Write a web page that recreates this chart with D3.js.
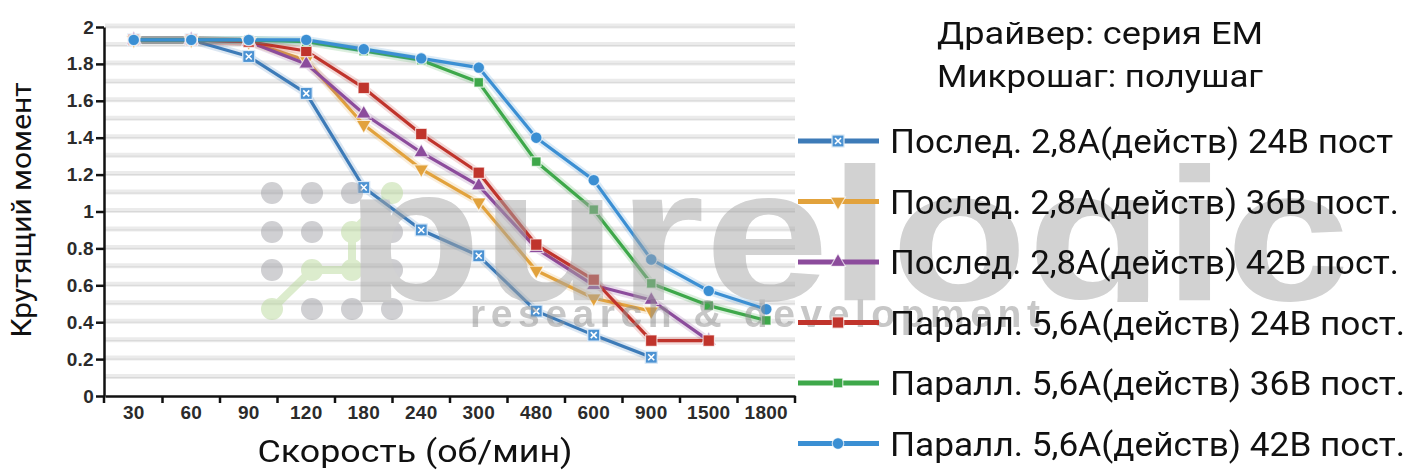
<!DOCTYPE html>
<html>
<head>
<meta charset="utf-8">
<script src="https://cdn.jsdelivr.net/npm/d3@7"></script>
<style>
  body { margin: 0; background: #fff; }
  svg { display: block; }
</style>
</head>
<body>
<div id="chart"></div>
<script>
// speed categories (rpm) and torque values
const speeds = ["30", "60", "90", "120", "180", "240", "300", "480", "600", "900", "1500", "1800"];
const torqueSer24 = [1.93, 1.93, 1.84, 1.64, 1.13, 0.90, 0.76, 0.46, 0.33, 0.21];
const torqueSer36 = [1.93, 1.93, 1.92, 1.82, 1.47, 1.23, 1.05, 0.68, 0.53, 0.46];
const torqueSer42 = [1.93, 1.93, 1.92, 1.80, 1.53, 1.32, 1.14, 0.80, 0.60, 0.52, 0.30];
const torquePar24 = [1.93, 1.93, 1.92, 1.87, 1.67, 1.42, 1.21, 0.82, 0.63, 0.30, 0.30];
const torquePar36 = [1.93, 1.93, 1.93, 1.92, 1.87, 1.82, 1.70, 1.27, 1.01, 0.61, 0.49, 0.41];
const torquePar42 = [1.93, 1.93, 1.93, 1.93, 1.88, 1.83, 1.78, 1.40, 1.17, 0.74, 0.57, 0.47];

const seriesNames = [
    "Послед. 2,8А(действ) 24В пост",
    "Послед. 2,8А(действ) 36В пост.",
    "Послед. 2,8А(действ) 42В пост.",
    "Паралл. 5,6А(действ) 24В пост.",
    "Паралл. 5,6А(действ) 36В пост.",
    "Паралл. 5,6А(действ) 42В пост."
];
const seriesColors = ["#3d7bb8", "#e2a23c", "#8c4c9c", "#c0342c", "#3ea84a", "#3b8fd3"];
const seriesMarkers = ["xsquare", "triangleDown", "triangle", "square", "smallSquare", "circle"];
const seriesValues = [torqueSer24, torqueSer36, torqueSer42, torquePar24, torquePar36, torquePar42];

const yTicks = [0, 0.2, 0.4, 0.6, 0.8, 1, 1.2, 1.4, 1.6, 1.8, 2];
const yTickLabels = ["0", "0.2", "0.4", "0.6", "0.8", "1", "1.2", "1.4", "1.6", "1.8", "2"];

const headerLines = ["Драйвер: серия EM", "Микрошаг: полушаг"];
const yTitle = "Крутящий момент";
const xTitle = "Скорость (об/мин)";

const width = 1410, height = 472;
const plot = { left: 105, right: 795, top: 15, bottom: 396 };
const bigFont = "Roboto, 'Open Sans', sans-serif";
const tickFont = "'Liberation Sans', Arial, sans-serif";

const svg = d3.select("#chart").append("svg")
    .attr("width", width)
    .attr("height", height);

const x = d3.scaleBand().domain(speeds).range([plot.left, plot.right]);
const y = d3.scaleLinear().domain([0, 2]).range([plot.bottom, 27]);
const cx = d => x(d) + x.bandwidth() / 2;

// striped background: a soft grey band every 0.1
const grid = svg.append("g");
const gridVals = d3.range(1, 21).map(i => i / 10);
grid.selectAll(".band").data(gridVals).join("line")
    .attr("x1", plot.left).attr("x2", plot.right)
    .attr("y1", d => y(d) - 1).attr("y2", d => y(d) - 1)
    .attr("stroke", "#ebebeb").attr("stroke-width", 5);
grid.selectAll(".thin").data(gridVals).join("line")
    .attr("x1", plot.left).attr("x2", plot.right)
    .attr("y1", d => y(d)).attr("y2", d => y(d))
    .attr("stroke", "#d8d8d8").attr("stroke-width", 1);

// axes
const yAxis = svg.append("g")
    .attr("transform", `translate(${plot.left - 1},0)`)
    .call(d3.axisLeft(y).tickValues(yTicks).tickFormat((d, i) => yTickLabels[i]).tickSize(8).tickSizeOuter(0).tickPadding(2));
const xAxis = svg.append("g")
    .attr("transform", `translate(0,${plot.bottom})`)
    .call(d3.axisBottom(x).tickSize(0).tickPadding(10));

[yAxis, xAxis].forEach(a => {
    a.attr("font-size", null).attr("font-family", null);
    a.select(".domain").attr("stroke", "#111").attr("stroke-width", 2.5);
    a.selectAll(".tick line").attr("stroke", "#111").attr("stroke-width", 2.5);
    a.selectAll(".tick text")
        .attr("fill", "#2b2b2b")
        .attr("font-family", tickFont)
        .attr("font-size", 19)
        .attr("font-weight", 700)
        .attr("style", "font-size:19px;font-weight:700;letter-spacing:0.3px");
});
// axis runs a bit below zero, ticks sit on the band edges
svg.append("line")
    .attr("x1", plot.left - 1).attr("x2", plot.left - 1)
    .attr("y1", plot.bottom).attr("y2", plot.bottom + 7)
    .attr("stroke", "#111").attr("stroke-width", 2.5);
xAxis.selectAll(".edge").data(speeds.slice(1).map(d => x(d)).concat([x.range()[1]])).join("line")
    .attr("x1", d => d).attr("x2", d => d)
    .attr("y1", 0).attr("y2", 7)
    .attr("stroke", "#111").attr("stroke-width", 2.5);

// series lines
const line = d3.line()
    .x((d, i) => cx(speeds[i]))
    .y(d => y(d));

const seriesG = svg.append("g");
seriesValues.forEach((vals, k) => {
    seriesG.append("path")
        .datum(vals)
        .attr("fill", "none")
        .attr("stroke", seriesColors[k])
        .attr("stroke-opacity", 0.18)
        .attr("stroke-width", 8)
        .attr("stroke-linejoin", "round")
        .attr("d", line);
    seriesG.append("path")
        .datum(vals)
        .attr("fill", "none")
        .attr("stroke", seriesColors[k])
        .attr("stroke-width", 3.2)
        .attr("stroke-linejoin", "round")
        .attr("d", line);
});

function drawMarker(g, kind, color, px, py) {
    const sym = d3.symbol();
    if (kind === "xsquare") {
        g.append("rect")
            .attr("x", px - 6).attr("y", py - 6).attr("width", 12).attr("height", 12)
            .attr("fill", "#4d93d3")
            .attr("stroke", "#dbe9f6").attr("stroke-width", 1.2);
        g.append("path")
            .attr("d", `M${px - 3},${py - 3}L${px + 3},${py + 3}M${px + 3},${py - 3}L${px - 3},${py + 3}`)
            .attr("stroke", "#fff").attr("stroke-width", 1.6);
        return;
    }
    let path, rot = 0;
    if (kind === "triangle") path = sym.type(d3.symbolTriangle).size(95)();
    else if (kind === "triangleDown") { path = sym.type(d3.symbolTriangle).size(95)(); rot = 180; }
    else if (kind === "square") path = sym.type(d3.symbolSquare).size(130)();
    else if (kind === "smallSquare") path = sym.type(d3.symbolSquare).size(90)();
    else path = sym.type(d3.symbolCircle).size(105)();
    g.append("path")
        .attr("d", path)
        .attr("transform", `translate(${px},${py}) rotate(${rot})`)
        .attr("fill", color)
        .attr("stroke", "#fff").attr("stroke-opacity", 0.7).attr("stroke-width", 1.2);
}

const markersG = svg.append("g");
seriesValues.forEach((vals, k) => {
    vals.forEach((v, i) => drawMarker(markersG, seriesMarkers[k], seriesColors[k], cx(speeds[i]), y(v)));
});

// watermark of the source picture
svg.append("clipPath").attr("id", "wm-clip")
    .append("rect").attr("x", 0).attr("y", 0).attr("width", width).attr("height", 302);
const wm = svg.append("g").attr("opacity", 0.5);
const dotCols = [272, 312, 352, 392], dotRows = [193, 232, 270, 309];
const greenDots = ["0,3", "1,2", "2,2", "2,1", "3,0"];
dotRows.forEach((ry, r) => dotCols.forEach((rx, c) => {
    wm.append("circle").attr("cx", rx).attr("cy", ry).attr("r", 11)
        .attr("fill", greenDots.includes(`${c},${r}`) ? "#b9d89a" : "#a0a0a6");
}));
wm.append("path")
    .attr("d", "M272,309L312,270L352,270L352,232L392,193")
    .attr("fill", "none").attr("stroke", "#b9d89a").attr("stroke-width", 8);
wm.append("g").attr("clip-path", "url(#wm-clip)")
    .append("text")
    .attr("x", 345).attr("y", 300)
    .attr("textLength", 1005).attr("lengthAdjust", "spacingAndGlyphs")
    .style("font-family", "'Liberation Sans', Arial, sans-serif")
    .style("font-weight", "bold").style("font-size", "190px")
    .attr("fill", "#a4a4a4")
    .text("purelogic");
wm.append("text")
    .attr("x", 470).attr("y", 327)
    .attr("textLength", 570).attr("lengthAdjust", "spacing")
    .style("font-family", "'Liberation Sans', Arial, sans-serif")
    .style("font-weight", "bold").style("font-size", "39px")
    .attr("fill", "#8e8e8e")
    .text("research & development");

// axis titles
svg.append("text")
    .attr("transform", `translate(31,210) rotate(-90)`)
    .attr("text-anchor", "middle")
    .attr("textLength", 255).attr("lengthAdjust", "spacingAndGlyphs")
    .style("font-family", bigFont).style("font-size", "28px")
    .attr("fill", "#111")
    .text(yTitle);
svg.append("text")
    .attr("x", 415).attr("y", 462)
    .attr("text-anchor", "middle")
    .attr("textLength", 315).attr("lengthAdjust", "spacingAndGlyphs")
    .style("font-family", bigFont).style("font-size", "31px")
    .attr("fill", "#111")
    .text(xTitle);

// header and legend
headerLines.forEach((t, i) => {
    svg.append("text")
        .attr("x", 1100).attr("y", 44 + i * 43)
        .attr("text-anchor", "middle")
        .attr("textLength", 326).attr("lengthAdjust", "spacingAndGlyphs")
        .style("font-family", bigFont).style("font-size", "32px")
        .attr("fill", "#111")
        .text(t);
});

const legendEnds = [1393, 1399, 1399, 1405, 1405, 1405];
const legend = svg.append("g");
seriesNames.forEach((name, k) => {
    const ly = 141 + k * 60.5;
    legend.append("line")
        .attr("x1", 798).attr("x2", 879)
        .attr("y1", ly).attr("y2", ly)
        .attr("stroke", seriesColors[k]).attr("stroke-width", 5);
    drawMarker(legend, seriesMarkers[k], seriesColors[k], 838, ly);
    legend.append("text")
        .attr("x", 890).attr("y", ly + 12)
        .attr("textLength", legendEnds[k] - 890).attr("lengthAdjust", "spacingAndGlyphs")
        .style("font-family", bigFont).style("font-size", "33px")
        .attr("fill", "#111")
        .text(name);
});
</script>
</body>
</html>
